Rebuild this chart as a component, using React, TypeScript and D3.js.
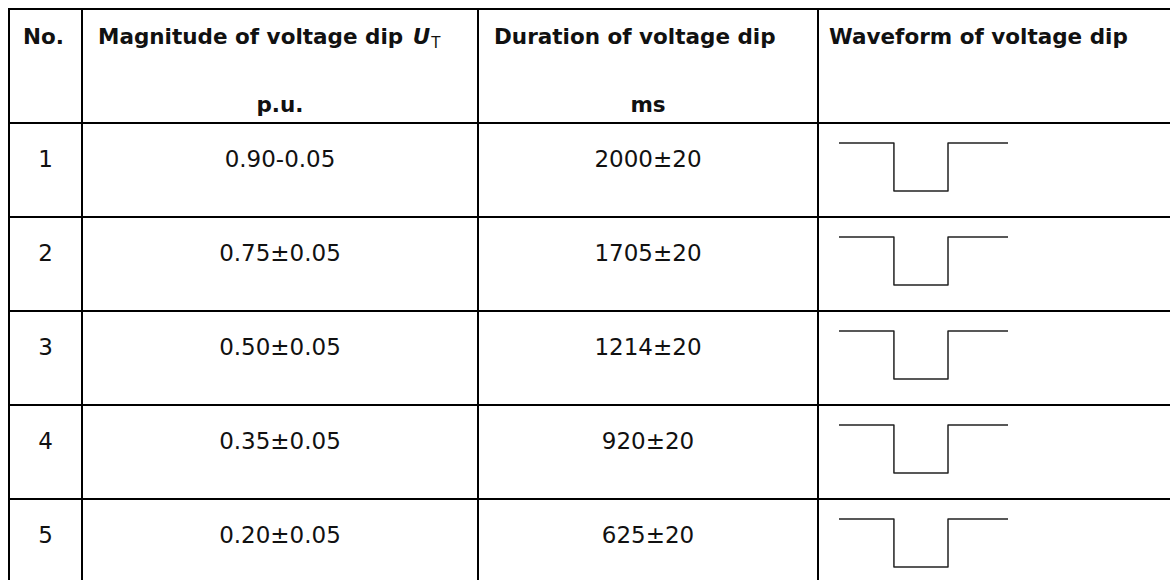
import * as React from "react"
import * as d3 from "d3"

// table content
const rowNumbers = ["1", "2", "3", "4", "5"]
const magnitudes = ["0.90-0.05", "0.75±0.05", "0.50±0.05", "0.35±0.05", "0.20±0.05"]
const durations = ["2000±20", "1705±20", "1214±20", "920±20", "625±20"]
const headerLine1 = ["No.", "Magnitude of voltage dip ", "Duration of voltage dip", "Waveform of voltage dip"]
const headerLine2 = ["", "p.u.", "ms", ""]
// normalised dip waveform: [time, level]
const dipShape: [number, number][] = [
  [0, 1],
  [0.325, 1],
  [0.325, 0],
  [0.645, 0],
  [0.645, 1],
  [1, 1],
]

const W = 1170
const H = 580
const colEdges = [9, 82, 478, 818, 1180]
const headerTop = 9
const headerBottom = 123
const rowH = 94
const font = "'DejaVu Sans', Tahoma, sans-serif"

function render(svgRef: React.RefObject<SVGSVGElement>) {
  const svg = d3.select(svgRef.current).attr("width", W).attr("height", H)
  svg.selectAll("*").remove()

  const yRow = d3
    .scaleLinear()
    .domain([0, rowNumbers.length])
    .range([headerBottom, headerBottom + rowH * rowNumbers.length])

  const g = svg.append("g")

  // horizontal rules
  const hLines = [headerTop, ...d3.range(rowNumbers.length + 1).map((i) => yRow(i))]
  g.selectAll(".hline")
    .data(hLines)
    .join("line")
    .attr("class", "hline")
    .attr("x1", colEdges[0] - 1)
    .attr("x2", colEdges[colEdges.length - 1])
    .attr("y1", (d) => d)
    .attr("y2", (d) => d)
    .attr("stroke", "#000")
    .attr("stroke-width", 2)

  // vertical rules
  g.selectAll(".vline")
    .data(colEdges)
    .join("line")
    .attr("class", "vline")
    .attr("x1", (d) => d)
    .attr("x2", (d) => d)
    .attr("y1", headerTop - 1)
    .attr("y2", yRow(rowNumbers.length) + 1)
    .attr("stroke", "#000")
    .attr("stroke-width", 2)

  // header first line (left aligned)
  const headPad = [14, 16, 16, 11]
  const head = g
    .selectAll(".head1")
    .data(headerLine1)
    .join("text")
    .attr("class", "head1")
    .attr("x", (_d, i) => colEdges[i] + headPad[i])
    .attr("y", 44)
    .attr("font-family", font)
    .attr("font-size", 21.5)
    .attr("font-weight", "bold")
    .attr("fill", "#111")
    .text((d) => d)

  // U_T on magnitude header
  const mag = head.filter((_d, i) => i === 1)
  mag.append("tspan").attr("dx", 2).attr("font-style", "italic").text("U")
  mag.append("tspan").attr("dx", 1).attr("font-size", 15).attr("font-weight", "normal").attr("dy", 4).text("T")

  g.selectAll(".head2")
    .data(headerLine2)
    .join("text")
    .attr("class", "head2")
    .attr("x", (_d, i) => (colEdges[i] + colEdges[i + 1]) / 2)
    .attr("y", 112)
    .attr("text-anchor", "middle")
    .attr("font-family", font)
    .attr("font-size", 21.5)
    .attr("font-weight", "bold")
    .attr("fill", "#111")
    .text((d) => d)

  // body cells
  const cols = [rowNumbers, magnitudes, durations]
  cols.forEach((values, c) => {
    g.selectAll(".cell" + c)
      .data(values)
      .join("text")
      .attr("class", "cell" + c)
      .attr("x", (colEdges[c] + colEdges[c + 1]) / 2)
      .attr("y", (_d, i) => yRow(i) + 44)
      .attr("text-anchor", "middle")
      .attr("font-family", font)
      .attr("font-size", 23)
      .attr("fill", "#111")
      .text((d) => d)
  })

  // waveform column
  const xWave = d3.scaleLinear().domain([0, 1]).range([839, 1008])
  const yWave = d3.scaleLinear().domain([0, 1]).range([68, 20])
  const line = d3
    .line<[number, number]>()
    .x((d) => xWave(d[0]))
    .y((d) => yWave(d[1]))

  g.selectAll(".wave")
    .data(rowNumbers)
    .join("path")
    .attr("class", "wave")
    .attr("transform", (_d, i) => `translate(0,${yRow(i)})`)
    .attr("d", line(dipShape))
    .attr("fill", "none")
    .attr("stroke", "#222")
    .attr("stroke-width", 1.5)
    .attr("stroke-linejoin", "round")
}

export default function App(): React.JSX.Element {
  const svg = React.useRef<SVGSVGElement>(null)

  React.useEffect(() => {
    render(svg)
  }, [])

  return (
    <svg
      ref={svg}
      style={{ position: "absolute", left: 0, top: 0, background: "#fff" }}
    ></svg>
  )
}
